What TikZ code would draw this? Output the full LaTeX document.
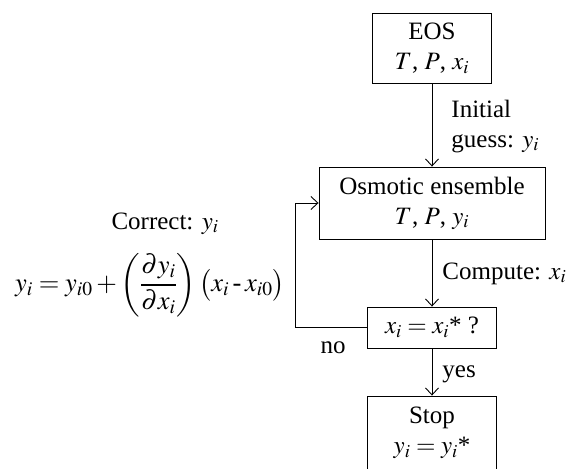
\documentclass[tikz,border=0pt]{standalone}
\usepackage{amsmath}
\usepackage{mathptmx}
\usepackage{fontspec}
\setmainfont{Liberation Serif}
\usetikzlibrary{arrows.meta}

\begin{document}
\begin{tikzpicture}[x=1pt, y=-1pt, line width=0.9pt,
    >={Straight Barb[length=7pt, width=13pt]},
    box/.style={draw, inner sep=0pt, align=center, font=\fontsize{25}{30}\selectfont},
    lbl/.style={inner sep=0pt, font=\fontsize{25}{30}\selectfont}]
  \useasboundingbox (0,0) rectangle (572,468);

  % Process boxes
  \node[box, minimum width=119pt, minimum height=70pt] (eos) at (432,48) {EOS\\$T$, $P$, $x_i$};
  \node[box, minimum width=226pt, minimum height=72pt] (osm) at (432,203) {Osmotic ensemble\\$T$, $P$, $y_i$};
  \node[box, minimum width=129pt, minimum height=41pt] (chk) at (432,327.5) {$x_i = x_i$* ?};
  \node[box, minimum width=129pt, minimum height=74pt] (stop) at (432,433) {Stop\\$y_i = y_i$*};

  % Arrow labels
  \node[lbl, anchor=base west, align=left] (guess) at (451,147) {Initial\\guess: $y_i$};
  \node[lbl, anchor=base west] (comp) at (442,279) {Compute: $x_i$};
  \node[lbl, anchor=base] (no) at (333,353) {no};
  \node[lbl, anchor=base west] (yes) at (442,377) {yes};

  % Correction step
  \node[lbl, anchor=base] (corr) at (165,229) {Correct: $y_i$};
  \node[lbl, font=\fontsize{26.5}{31}\selectfont] (eq) at (150,285)
    {$y_i = y_{i0} + \left(\dfrac{\partial y_i}{\partial x_i}\right)\bigl(x_i \mathbin{\text{-}} x_{i0}\bigr)$};

  % Flow
  \draw[->] (eos.south) -- (osm.north);
  \draw[->] (osm.south) -- (chk.north);
  \draw[->] (chk.south) -- (stop.north);
  \draw[->] (chk.west) -- ++(-72,0) |- (osm.west);
\end{tikzpicture}
\end{document}
